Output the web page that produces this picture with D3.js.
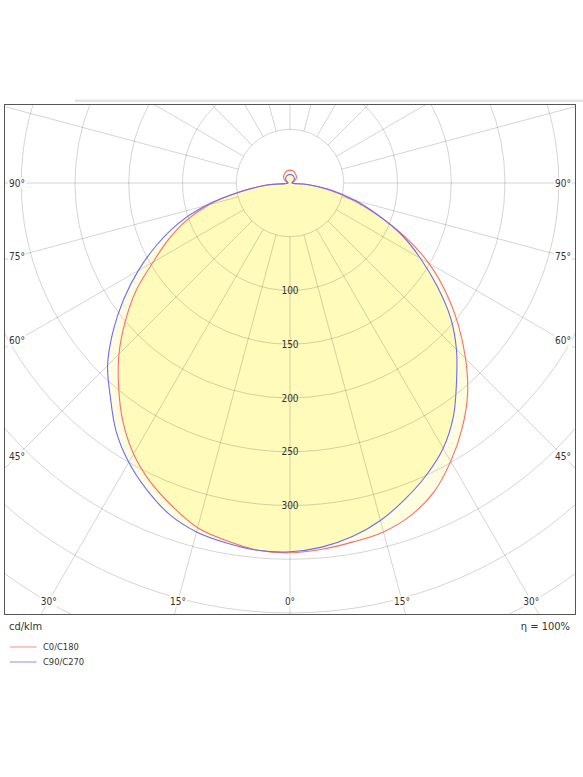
<!DOCTYPE html>
<html>
<head>
<meta charset="utf-8">
<script src="https://cdn.jsdelivr.net/npm/d3@7"></script>
<style>
body{margin:0;background:#fff;}
svg{display:block;font-family:"DejaVu Sans Condensed","DejaVu Sans",sans-serif;}
</style>
</head>
<body>
<svg id="chart" width="583" height="777"></svg>
<script>
// ===== data (cd/klm, gamma in degrees, 0 = straight down, + = right) =====
const gamma = [-180,-165,-150,-135,-120,-105,
  -90,-85,-80,-75,-70,-65,-60,-55,-50,-45,-40,-35,-30,-25,-20,-15,-10,-5,
  0,5,10,15,20,25,30,35,40,45,50,55,60,65,70,75,80,85,90,
  105,120,135,150,165];
const c0c180 = [12,11.5,10,8.5,6,3,
  2,21,47,78,103,125,147,175,200,225,248,271,291,307,320,332,338,343,
  344,342,339,336,329,317,299,279,257,231,204,177,149,118,86,60,37,16,2,
  3,6,8.5,10,11.5];
const c90c270 = [8,7.7,7,5.7,4,2,
  2,22,47,81,111,137,163,189,215,240,260,282,300,315,328,336,340,343,
  343,340,334,325,313,300,285,265,241,219,195,167,140,115,87,63,40,16,2,
  2,4,5.7,7,7.7];

const seriesNames = ['C0/C180','C90/C270'];
const seriesColors = ['#ff6b6b','#6b6bff'];
const ringValues = [50,100,150,200,250,300,350,400,450,500];
const ringLabels = [100,150,200,250,300];
const spokeAngles = [0,15,30,45,60,75,90,105,120,135,150,165,180,195,210,225,240,255,270,285,300,315,330,345];
const angleLabels = [-90,-75,-60,-45,-30,-15,0,15,30,45,60,75,90];
const unitText = 'cd/klm';
const effText = 'η = 100%';

// ===== layout =====
const svg = d3.select('#chart');
const cx = 290, cy = 183;
const F = {x0:4.5, y0:104.5, x1:575.5, y1:614.5};
const r = d3.scaleLinear().domain([0,50]).range([0,53.75]);
const rad = g => g*Math.PI/180;

const toPts = vals => gamma.map((g,i)=>({g, v: vals[i]}));
const radial = d3.lineRadial()
  .angle(d => Math.PI - rad(d.g))
  .radius(d => r(d.v))
  .curve(d3.curveCatmullRomClosed.alpha(0.5));

const red = toPts(c0c180), blue = toPts(c90c270);

const defs = svg.append('defs');
defs.append('clipPath').attr('id','frameClip')
  .append('rect').attr('x',F.x0).attr('y',F.y0).attr('width',F.x1-F.x0).attr('height',F.y1-F.y0);
defs.append('clipPath').attr('id','blueClip')
  .append('path').attr('transform',`translate(${cx},${cy})`).attr('d', radial(blue));

// light bar above the frame
svg.append('rect').attr('x',75).attr('y',99.5).attr('width',508).attr('height',2.5).attr('fill','#e4e4e4');

const gPlot = svg.append('g').attr('clip-path','url(#frameClip)');

// fills: union pale, intersection stronger
const gFill = gPlot.append('g');
gFill.append('path').attr('transform',`translate(${cx},${cy})`).attr('d', radial(blue)).attr('fill','#fffde0');
gFill.append('path').attr('transform',`translate(${cx},${cy})`).attr('d', radial(red)).attr('fill','#fffde0');
gFill.append('g').attr('clip-path','url(#blueClip)')
  .append('path').attr('transform',`translate(${cx},${cy})`)
  .attr('d', radial(red)).attr('fill','#fffbbb');

// grid on top of the fills
const gC = gPlot.append('g').attr('transform',`translate(${cx},${cy})`);
gC.selectAll('circle.ring').data(ringValues).join('circle')
  .attr('class','ring').attr('r', d=>r(d))
  .attr('fill','none').attr('stroke','#000').attr('stroke-opacity',0.17).attr('stroke-width',1);
gC.selectAll('line.spoke').data(spokeAngles).join('line')
  .attr('class','spoke')
  .attr('x1', d=>r(50)*Math.sin(rad(d))).attr('y1', d=>r(50)*Math.cos(rad(d)))
  .attr('x2', d=>r(700)*Math.sin(rad(d))).attr('y2', d=>r(700)*Math.cos(rad(d)))
  .attr('stroke','#000').attr('stroke-opacity',0.17).attr('stroke-width',1);

// curves
[red, blue].forEach((s,i)=>{
  gC.append('path').attr('d', radial(s))
    .attr('fill','none').attr('stroke', seriesColors[i]).attr('stroke-width',1.1)
    .attr('stroke-linejoin','round');
});

// frame
svg.append('rect').attr('x',F.x0).attr('y',F.y0).attr('width',F.x1-F.x0).attr('height',F.y1-F.y0)
  .attr('fill','none').attr('stroke','#555').attr('stroke-width',1);

// ring value labels
svg.selectAll('text.rl').data(ringLabels).join('text')
  .attr('class','rl')
  .attr('x', cx).attr('y', d=>cy + r(d))
  .attr('dy','0.35em').attr('text-anchor','middle')
  .attr('font-size',10).attr('fill','#333')
  .text(d=>d);

// angle labels, placed where each ray meets an inner box
const side = 273, bottom = 418;
const aPos = g => {
  const s = Math.sin(rad(g)), c = Math.cos(rad(g));
  const t = Math.min(Math.abs(s) > 1e-6 ? side/Math.abs(s) : Infinity, c > 1e-6 ? bottom/c : Infinity);
  return [cx + t*s, cy + t*c];
};
const gA = svg.append('g');
angleLabels.forEach(g=>{
  const [x,y] = aPos(g);
  const t = gA.append('text').attr('x',x).attr('y',y).attr('dy','0.35em')
    .attr('text-anchor','middle').attr('font-size',10).attr('fill','#333')
    .text(`${Math.abs(g)}°`);
  const bb = t.node().getBBox();
  gA.insert('rect','text').attr('x',bb.x-1).attr('y',bb.y).attr('width',bb.width+2).attr('height',bb.height).attr('fill','#fff');
});
gA.selectAll('text').raise();

// footer texts
svg.append('text').attr('x',9).attr('y',629.5).attr('font-size',11).attr('fill','#333').text(unitText);
svg.append('text').attr('x',570).attr('y',629.5).attr('text-anchor','end').attr('font-size',11).attr('fill','#333').text(effText);

// legend
const gL = svg.append('g');
seriesNames.forEach((n,i)=>{
  const y = 647 + i*15;
  gL.append('line').attr('x1',10).attr('x2',36.5).attr('y1',y).attr('y2',y)
    .attr('stroke', seriesColors[i]).attr('stroke-opacity',0.8).attr('stroke-width',1);
  gL.append('text').attr('x',43).attr('y',y).attr('dy','0.35em')
    .attr('font-size',9.3).attr('fill','#333').text(n);
});
</script>
</body>
</html>
